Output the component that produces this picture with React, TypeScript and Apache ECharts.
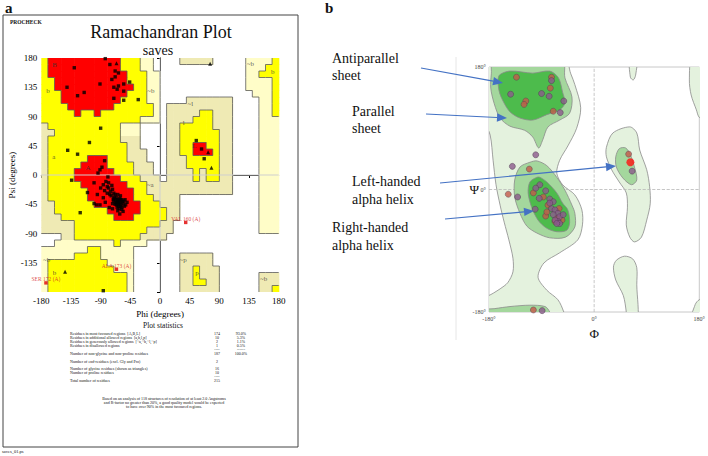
import React, { useEffect, useRef } from "react";
import * as echarts from "echarts";

const SERIF = "'Liberation Serif', 'Times New Roman', serif";

// ================= Panel a (PROCHECK) =================
// Region map: 36 rows of 10° psi (from +180 down), 36 cols of 10° phi (from -180).
// run-length codes: . disallowed, q/p generously allowed, y additional allowed, r most favoured
const REGION_ROWS = [
  "y1 r11 y3 q2 .4 p5 .5 q4 y1",
  "y1 r11 y3 q2 .14 q3 y2",
  "y1 r12 y3 q2 .13 q2 y3",
  "y2 r11 y3 q2 .13 q4 y1",
  "y2 r12 y2 q2 .13 q4 y1",
  "y3 r10 y3 q2 .14 q3 y1",
  "y3 r9 y4 q2 .4 p7 .4 q2 y1",
  "y4 r7 y6 q1 .1 p10 .4 q2 y1",
  "y5 r1 y2 r1 y8 q1 .1 p5 y2 p3 .4 q2 y1",
  "y15 q3 .1 p4 y3 p3 .4 q3",
  "p1 y11 q3 .4 p2 y5 p3 .4 q3",
  "p2 y10 q3 .4 p2 y6 p2 .4 q3",
  "p1 y11 p3 .4 p2 y6 p2 .4 q3",
  "p1 y12 p2 .4 p2 y2 r2 y2 p2 .4 q3",
  "p1 y12 p3 .3 p2 y2 r3 y1 p2 .4 q3",
  "p1 y6 r3 y3 p3 .3 p3 y5 p2 .4 q3",
  "p1 y5 r4 y4 p3 .2 p3 y5 p2 .4 q3",
  "p1 y4 r6 y3 p3 .2 p4 y1 p1 y2 p2 .4 q3",
  "p1 y4 r7 y3 p3 .1 p4 y1 p1 y2 p2 .4 q3",
  "p1 y5 r7 y3 p13 .4 q3",
  "p1 y6 r7 y2 p13 .4 q3",
  "p1 y6 r7 y3 p4 .12 q3",
  "p2 y6 r7 y3 p3 .12 q3",
  "p2 y8 r5 y4 p2 .12 q3",
  "p3 y8 r3 y5 p2 .12 q3",
  "p5 y13 p2 .13 q3",
  "p5 y11 p4 .13 q3",
  ".3 p2 y10 p4 .17",
  ".2 q9 y1 q4 .20",
  "q7 y2 q5 .22",
  "q5 y4 q5 .7 p5 .10",
  "q1 y9 q4 .7 p5 .10",
  "q1 y10 q3 .7 p2 y1 p3 .9",
  "q1 y12 q1 .7 p2 y1 p3 .6 p3",
  "q1 y12 q1 .7 p2 y2 p2 .6 p3",
  "q1 y12 q1 .7 p6 .6 p2 y1",
];

const REGION_LABELS = [
  { name: "B", value: [-160, 169] },
  { name: "b", value: [-170, 130] },
  { name: "~b", value: [-14, 130] },
  { name: "A", value: [-109, 11] },
  { name: "a", value: [-161, 28] },
  { name: "~a", value: [-15, -15] },
  { name: "L", value: [52, 45] },
  { name: "l", value: [36, 80] },
  { name: "~l", value: [46, 109] },
  { name: "~b", value: [137, 171] },
  { name: "b", value: [171, 159] },
  { name: "~p", value: [35, -131] },
  { name: "p", value: [56, -151] },
  { name: "~b", value: [157, -160] },
  { name: "~b", value: [-172, -130] },
  { name: "b", value: [-160, -150] },
];

const RESIDUES = [
  [-83, 179], [-130, 165], [-76, 170], [-68, 160], [-63, 157], [-68, 151], [-73, 147], [-46, 143],
  [-55, 140], [-141, 135], [-91, 140], [-70, 135], [-63, 137], [-65, 132], [-55, 129], [-115, 127],
  [-125, 122], [-70, 118], [-55, 115], [-33, 116], [-90, 72], [-107, 50], [-140, 38], [-125, 32],
  [55, 53], [63, 40], [67, 25], [-86, -178],
  [-134, -8], [-91, 8], [-94, 3], [-84, 22], [-79, -3], [-110, -27], [-100, -44], [-96, -46],
  [-91, -46], [-121, -58], [-56, -56], [-61, -60], [-100, -12], [-82, -10], [-80, -18], [-88, 12],
  [-78, -20], [-75, -25], [-72, -22], [-70, -28], [-68, -30], [-74, -32], [-66, -35], [-64, -38],
  [-70, -36], [-62, -40], [-60, -42], [-66, -42], [-68, -45], [-63, -45], [-58, -38], [-56, -44],
  [-60, -48], [-65, -50], [-62, -52], [-58, -50], [-55, -40], [-52, -46], [-70, -40], [-72, -44],
  [-67, -38], [-64, -42], [-61, -36], [-59, -46], [-63, -48], [-66, -46], [-69, -34], [-57, -41],
  [-54, -48], [-62, -44], [-65, -40], [-60, -38], [-67, -43], [-71, -38], [-58, -53], [-64, -55],
  [-76, -30], [-80, -28], [-84, -24], [-86, -15], [-78, -12], [-73, -16], [-90, -20], [-86, -35],
  [-95, -30], [-83, -42], [-77, -50], [-72, -52], [-50, -42], [-53, -38], [-60, -32], [-64, -30],
];

const GLYCINES = [[-66, 172], [76, 171], [73, 35], [78, 11], [-144, -149]];

const OUTLIERS = [
  { name: "VAL 160 (A)", value: [39, -73] },
  { name: "ALA 173 (A)", value: [-66, -145] },
  { name: "SER 172 (A)", value: [-173, -166] },
];

const STAT_ROWS = [
  ["Residues in most favoured regions  [A,B,L]", "174", "93.0%"],
  ["Residues in additional allowed regions  [a,b,l,p]", "10", "5.3%"],
  ["Residues in generously allowed regions  [~a,~b,~l,~p]", "2", "1.1%"],
  ["Residues in disallowed regions", "1", "0.5%"],
  ["", "----", "------"],
  ["Number of non-glycine and non-proline residues", "187", "100.0%"],
  ["Number of end-residues (excl. Gly and Pro)", "2", ""],
  ["Number of glycine residues (shown as triangles)", "16", ""],
  ["Number of proline residues", "10", ""],
  ["", "----", ""],
  ["Total number of residues", "215", ""],
];

const FOOTER = [
  "Based on an analysis of 118 structures of resolution of at least 2.0 Angstroms",
  "and R-factor no greater than 20%, a good quality model would be expected",
  "to have over 90% in the most favoured regions.",
];

// ================= Panel b (contours, degrees) =================
const ALLOWED_LEFT = [
  [-195, 195], [-52, 195], [-40, 170], [-33, 154], [-23, 120], [-30, 90], [-45, 64], [-59, 43],
  [-64, 24], [-54, 7], [-33, -8], [-21, -30], [-20, -52], [-28, -74], [-59, -93], [-86, -108],
  [-96, -129], [-81, -148], [-62, -162], [-52, -180], [-48, -195], [-195, -195], [-195, -165],
  [-172, -152], [-161, -146], [-148, -137], [-139, -121], [-139, -101], [-146, -74], [-154, -48],
  [-161, -23], [-168, 7], [-173, 43], [-178, 80], [-188, 100], [-195, 120],
];
const SHEET_MID = [
  [-172, 195], [-55, 195], [-50, 164], [-38, 136], [-42, 112], [-59, 102], [-79, 92], [-88, 73],
  [-95, 61], [-105, 77], [-119, 87], [-144, 93], [-161, 105], [-171, 126], [-177, 149], [-176, 170],
];
const SHEET_CORE = [
  [-163, 167], [-144, 174], [-105, 171], [-76, 174], [-61, 164], [-54, 143], [-50, 127], [-59, 117],
  [-81, 110], [-105, 102], [-127, 105], [-144, 114], [-156, 130], [-163, 146],
];
const HELIX_MID = [
  [-110, 40], [-127, 33], [-136, 14], [-136, -11], [-127, -35], [-115, -54], [-98, -64], [-76, -71],
  [-49, -70], [-33, -55], [-33, -35], [-38, -23], [-50, -1], [-64, 18], [-81, 35], [-98, 42],
];
const HELIX_CORE = [
  [-98, 18], [-110, 11], [-113, -5], [-107, -26], [-96, -45], [-81, -57], [-64, -62], [-47, -60],
  [-42, -49], [-45, -30], [-54, -20], [-64, -5], [-81, 11], [-93, 18],
];
const LEFT_ALLOWED = [
  [61, 92], [32, 83], [21, 62], [21, 48], [30, 29], [43, 11], [55, -5], [57, -26], [55, -52],
  [61, -70], [69, -77], [81, -70], [90, -45], [96, -21], [95, 4], [90, 29], [78, 58], [73, 83],
];
const LEFT_MID = [[43, 60], [37, 48], [38, 33], [49, 17], [64, 7], [73, 14], [69, 33], [62, 51], [54, 61]];
const TOP_BLOB = [[61, 195], [73, 195], [71, 168], [67, 161], [62, 165]];
const LOWER_BLOB = [
  [38, -104], [33, -114], [37, -133], [50, -156], [55, -180], [56, -195], [74, -195], [73, -140],
  [73, -115], [66, -102], [52, -98],
];
const EDGE_TOP = [[168, 195], [195, 195], [195, 100], [180, 106], [175, 117], [166, 139], [163, 161]];
const EDGE_BOTTOM = [[166, -195], [195, -195], [195, -160], [180, -162], [173, -169]];
const BOTTOM_MID = [
  [-195, -195], [-70, -195], [-76, -180], [-84, -172], [-110, -170], [-144, -172], [-170, -175], [-195, -178],
];

const ORANGE_PTS = [
  [-133, 165], [-73, 165], [-75, 149], [-117, 130], [-120, 125], [-70, 115], [-111, 30], [-147, -7],
  [-104, -5], [-87, -11], [-79, -23], [-60, -28], [-64, -42], [-83, -39], [-67, -47], [-55, -45],
  [-81, -33], [-104, -177], [59, 52],
];
const PURPLE_PTS = [
  [-73, 160], [-143, 140], [-90, 141], [-77, 137], [-52, 130], [-58, 113], [-100, 51], [-140, 34],
  [-131, -11], [-93, 7], [-100, 2], [-83, -2], [-94, -13], [-76, -14], [-70, -18], [-73, -28],
  [-67, -30], [-62, -35], [-70, -37], [-59, -40], [-53, -37], [-62, -47], [-67, -45], [-101, -29],
  [-59, -50], [-64, -50], [-76, -20], [-89, -178], [65, 27],
];
const HIGHLIGHT_PTS = [[62, 40]];

// ============ helpers ============
function expandRow(s: string): string {
  let out = "";
  for (const tok of s.trim().split(/\s+/)) {
    const ch = tok[0];
    const n = tok.length > 1 ? parseInt(tok.slice(1), 10) : 1;
    out += ch.repeat(n);
  }
  return out.padEnd(36, ".").slice(0, 36);
}
const LEVEL: Record<string, number> = { ".": 0, q: 1, p: 1, y: 2, r: 3 };
const CODE: Record<string, number> = { q: 1, p: 2, y: 3, r: 4 };
const CELL_COLORS = ["#ffffff", "#FFFDC8", "#EFEAB4", "#FFFF00", "#FF0000"];

function buildCells() {
  const g = REGION_ROWS.map(expandRow);
  const cells: number[][] = [];
  for (let i = 0; i < 36; i++) {
    for (let j = 0; j < 36; j++) {
      const ch = g[i][j];
      if (ch === ".") continue;
      const lv = LEVEL[ch];
      const up = i > 0 ? LEVEL[g[i - 1][j]] : lv;
      const dn = i < 35 ? LEVEL[g[i + 1][j]] : lv;
      const lf = j > 0 ? LEVEL[g[i][j - 1]] : lv;
      const rt = j < 35 ? LEVEL[g[i][j + 1]] : lv;
      const mask = (up < lv ? 1 : 0) | (rt < lv ? 2 : 0) | (dn < lv ? 4 : 0) | (lf < lv ? 8 : 0);
      cells.push([-180 + 10 * j, 170 - 10 * i, CODE[ch], mask]);
    }
  }
  return cells;
}

function txt(text: string, x: number, y: number, size: number, o: any = {}) {
  return {
    type: "text",
    x,
    y,
    silent: true,
    z: 20,
    style: {
      text,
      fontSize: size,
      fontFamily: SERIF,
      fontWeight: o.bold ? "bold" : "normal",
      fill: o.fill || "#111",
      textAlign: o.align || "left",
      textVerticalAlign: "middle",
    },
  };
}

function arrow(x1: number, y1: number, x2: number, y2: number) {
  const dx = x2 - x1, dy = y2 - y1, L = Math.hypot(dx, dy);
  const ux = dx / L, uy = dy / L;
  const hl = 10, hw = 4.2;
  const bx = x2 - ux * hl, by = y2 - uy * hl;
  return [
    { type: "line", silent: true, z: 20, shape: { x1, y1, x2: bx, y2: by }, style: { stroke: "#4472C4", lineWidth: 1.2 } },
    {
      type: "polygon", silent: true, z: 20,
      shape: { points: [[x2, y2], [bx - uy * hw, by + ux * hw], [bx + uy * hw, by - ux * hw]] },
      style: { fill: "#4472C4" },
    },
  ];
}

function polySeries(points: number[][], fill: string, z: number) {
  return {
    type: "custom",
    xAxisIndex: 1,
    yAxisIndex: 1,
    clip: true,
    silent: true,
    z,
    data: [[0, 0]],
    renderItem: (_p: any, api: any) => ({
      type: "polygon",
      shape: { points: points.map((pt) => api.coord(pt)), smooth: 0.3 },
      style: { fill, stroke: "#8a8a8a", lineWidth: 0.8 },
    }),
  };
}

export default function App() {
  const ref = useRef<HTMLDivElement>(null);

  useEffect(() => {
    if (!ref.current) return;
    const chart = echarts.init(ref.current, undefined, { renderer: "svg" });
    const cells = buildCells();

    const OUTER = "#E4F2DE", MID = "#A4D79D", CORE = "#4DBB4C";

    const graphics: any[] = [
      txt("a", 5, 8, 15, { bold: true }),
      txt("b", 325, 8, 15, { bold: true }),
      { type: "rect", silent: true, z: 0, shape: { x: 3, y: 15, width: 295, height: 432 }, style: { fill: "none", stroke: "#444", lineWidth: 1 } },
      txt("PROCHECK", 10, 22, 5.5, { bold: true }),
      txt("Ramachandran Plot", 161, 32, 18, { align: "center" }),
      txt("saves", 158, 50, 14, { align: "center" }),
      txt("Plot statistics", 163, 325, 7.5, { align: "center" }),
      txt("saves_01.ps", 2, 451, 4.5),
      { type: "line", silent: true, z: 0, shape: { x1: 456, y1: 57, x2: 456, y2: 340 }, style: { stroke: "#e6e6e6", lineWidth: 1 } },
    ];
    const rowY = [333, 337, 341, 345, 349, 353.5, 361, 368.5, 372.5, 376.5, 380.5];
    STAT_ROWS.forEach((r, i) => {
      if (r[0]) graphics.push(txt(r[0], 70, rowY[i], 4));
      if (r[1]) graphics.push(txt(r[1], 217, rowY[i], 4, { align: "center" }));
      if (r[2]) graphics.push(txt(r[2], 241, rowY[i], 4, { align: "center" }));
    });
    FOOTER.forEach((f, i) => graphics.push(txt(f, 164, 398 + i * 4.4, 4, { align: "center" })));

    // panel b annotations
    graphics.push(txt("Antiparallel", 332, 58, 14));
    graphics.push(txt("sheet", 332, 75, 14));
    graphics.push(txt("Parallel", 352, 111, 14));
    graphics.push(txt("sheet", 352, 128, 14));
    graphics.push(txt("Left-handed", 352, 181, 14));
    graphics.push(txt("alpha helix", 352, 199, 14));
    graphics.push(txt("Right-handed", 332, 227, 14));
    graphics.push(txt("alpha helix", 332, 245, 14));
    graphics.push(...arrow(421, 68, 503, 83));
    graphics.push(...arrow(426, 114, 507, 118));
    graphics.push(...arrow(440, 183, 616, 166));
    graphics.push(...arrow(445, 219, 534, 211));

    const option: any = {
      animation: false,
      backgroundColor: "#fff",
      graphic: { elements: graphics },
      grid: [
        { left: 41.3, top: 58, width: 237.4, height: 234 },
        { left: 489, top: 67, width: 211, height: 245, show: true, borderColor: "#c8c8c8", borderWidth: 1, backgroundColor: "#fff" },
      ],
      xAxis: [
        {
          gridIndex: 0, type: "value", min: -180, max: 180, interval: 45,
          axisLine: { lineStyle: { color: "#000", width: 1 } },
          axisTick: { length: 3, lineStyle: { color: "#000" } },
          axisLabel: { fontSize: 9, fontFamily: SERIF, color: "#000", margin: 4 },
          splitLine: { show: false },
          name: "Phi (degrees)", nameLocation: "middle", nameGap: 16,
          nameTextStyle: { fontSize: 9, fontFamily: SERIF, color: "#000" },
        },
        {
          gridIndex: 1, type: "value", min: -180, max: 180, interval: 180,
          axisLine: { show: false }, axisTick: { show: false }, splitLine: { show: false },
          axisLabel: { fontSize: 6, fontFamily: SERIF, color: "#444", margin: 4, formatter: (v: number) => `${v}°` },
          name: "Φ", nameLocation: "middle", nameGap: 13,
          nameTextStyle: { fontSize: 13, fontFamily: SERIF, color: "#111" },
        },
      ],
      yAxis: [
        {
          gridIndex: 0, type: "value", min: -180, max: 180, interval: 45,
          axisLine: { lineStyle: { color: "#000", width: 1 } },
          axisTick: { length: 3, lineStyle: { color: "#000" } },
          axisLabel: { fontSize: 9, fontFamily: SERIF, color: "#000", margin: 4, formatter: (v: number) => (v === -180 ? "" : String(v)) },
          splitLine: { show: false },
          name: "Psi (degrees)", nameLocation: "middle", nameGap: 23, nameRotate: 90,
          nameTextStyle: { fontSize: 9, fontFamily: SERIF, color: "#000" },
        },
        {
          gridIndex: 1, type: "value", min: -180, max: 180, interval: 180,
          axisLine: { show: false }, axisTick: { show: false }, splitLine: { show: false },
          axisLabel: {
            fontSize: 6, fontFamily: SERIF, color: "#444", margin: 3,
            formatter: (v: number) => (v === 0 ? "{psi|Ψ} 0°" : `${v}°`),
            rich: { psi: { fontSize: 13, fontFamily: SERIF, color: "#111" } },
          },
        },
      ],
      series: [
        // ---- panel a ----
        {
          type: "custom", xAxisIndex: 0, yAxisIndex: 0, clip: true, silent: true, z: 1, data: cells,
          renderItem: (_p: any, api: any) => {
            const phi = api.value(0), psi = api.value(1), code = api.value(2);
            const a = api.coord([phi, psi + 10]);
            const b = api.coord([phi + 10, psi]);
            return {
              type: "rect",
              shape: { x: a[0], y: a[1], width: b[0] - a[0] + 0.6, height: b[1] - a[1] + 0.6 },
              style: { fill: CELL_COLORS[code] },
            };
          },
        },
        {
          type: "custom", xAxisIndex: 0, yAxisIndex: 0, clip: true, silent: true, z: 2, data: cells,
          renderItem: (_p: any, api: any) => {
            const phi = api.value(0), psi = api.value(1), mask = api.value(3);
            const a = api.coord([phi, psi + 10]);
            const b = api.coord([phi + 10, psi]);
            const st = { stroke: "#5a5a5a", lineWidth: 0.8 };
            const ch: any[] = [];
            if (mask & 1) ch.push({ type: "line", shape: { x1: a[0], y1: a[1], x2: b[0], y2: a[1] }, style: st });
            if (mask & 2) ch.push({ type: "line", shape: { x1: b[0], y1: a[1], x2: b[0], y2: b[1] }, style: st });
            if (mask & 4) ch.push({ type: "line", shape: { x1: a[0], y1: b[1], x2: b[0], y2: b[1] }, style: st });
            if (mask & 8) ch.push({ type: "line", shape: { x1: a[0], y1: a[1], x2: a[0], y2: b[1] }, style: st });
            return { type: "group", children: ch };
          },
        },
        {
          type: "line", xAxisIndex: 0, yAxisIndex: 0, silent: true, z: 3, showSymbol: false,
          data: [[0, -180], [0, 180]], lineStyle: { color: "#cfcfcf", width: 1 },
        },
        {
          type: "line", xAxisIndex: 0, yAxisIndex: 0, silent: true, z: 3, showSymbol: false,
          data: [[-180, 0], [180, 0]], lineStyle: { color: "#cfcfcf", width: 1 },
        },
        {
          type: "scatter", xAxisIndex: 0, yAxisIndex: 0, silent: true, z: 4, symbolSize: 1,
          itemStyle: { color: "rgba(0,0,0,0)" }, data: REGION_LABELS,
          label: { show: true, position: "inside", formatter: "{b}", fontSize: 7, fontFamily: SERIF, color: "#333" },
        },
        {
          type: "scatter", xAxisIndex: 0, yAxisIndex: 0, silent: true, z: 5, symbol: "rect", symbolSize: 3.4,
          itemStyle: { color: "#000" }, data: RESIDUES,
        },
        {
          type: "scatter", xAxisIndex: 0, yAxisIndex: 0, silent: true, z: 5, symbol: "triangle", symbolSize: 4,
          itemStyle: { color: "#000" }, data: GLYCINES,
        },
        {
          type: "scatter", xAxisIndex: 0, yAxisIndex: 0, silent: true, z: 5, symbol: "rect", symbolSize: 3.4,
          itemStyle: { color: "#e00000" }, data: OUTLIERS,
          label: { show: true, position: "top", distance: -1, formatter: "{b}", fontSize: 5.5, fontFamily: SERIF, color: "#d42020" },
        },
        // ---- panel b ----
        {
          type: "line", xAxisIndex: 1, yAxisIndex: 1, silent: true, z: 1, showSymbol: false,
          data: [[0, -180], [0, 180]], lineStyle: { color: "#b8b8b8", width: 0.8, type: "dashed" },
        },
        polySeries(ALLOWED_LEFT, OUTER, 2),
        polySeries(LEFT_ALLOWED, OUTER, 2),
        polySeries(TOP_BLOB, OUTER, 2),
        polySeries(LOWER_BLOB, OUTER, 2),
        polySeries(EDGE_TOP, OUTER, 2),
        polySeries(EDGE_BOTTOM, OUTER, 2),
        {
          type: "line", xAxisIndex: 1, yAxisIndex: 1, silent: true, z: 3, showSymbol: false,
          data: [[-180, 0], [180, 0]], lineStyle: { color: "#b8b8b8", width: 0.8, type: "dashed" },
        },
        polySeries(SHEET_MID, MID, 4),
        polySeries(HELIX_MID, MID, 4),
        polySeries(LEFT_MID, MID, 4),
        polySeries(BOTTOM_MID, MID, 4),
        polySeries(SHEET_CORE, CORE, 5),
        polySeries(HELIX_CORE, CORE, 5),
        {
          type: "scatter", xAxisIndex: 1, yAxisIndex: 1, silent: true, z: 6, symbolSize: 6,
          itemStyle: { color: "#C45A4A", borderColor: "#5b4250", borderWidth: 0.6 }, data: ORANGE_PTS,
        },
        {
          type: "scatter", xAxisIndex: 1, yAxisIndex: 1, silent: true, z: 6, symbolSize: 6,
          itemStyle: { color: "#8C5A8C", borderColor: "#4e3a50", borderWidth: 0.6 }, data: PURPLE_PTS,
        },
        {
          type: "scatter", xAxisIndex: 1, yAxisIndex: 1, silent: true, z: 7, symbolSize: 8,
          itemStyle: { color: "#FF1010" }, data: HIGHLIGHT_PTS,
        },
      ],
    };
    chart.setOption(option);
    return () => chart.dispose();
  }, []);

  return (
    <div
      ref={ref}
      style={{ position: "fixed", left: 0, top: 0, width: 708, height: 456, background: "#fff" }}
    />
  );
}
